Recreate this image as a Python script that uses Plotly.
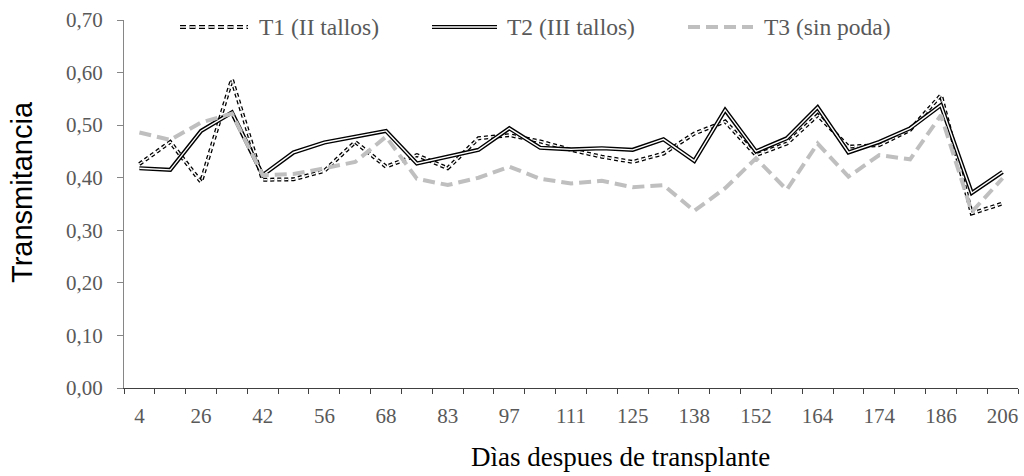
import plotly.graph_objects as go

# ---- data ----
days = ["4", "15", "26", "34", "42", "49", "56", "62", "68", "76", "83", "90", "97", "104",
        "111", "118", "125", "132", "138", "145", "152", "158", "164", "169", "174", "180",
        "186", "196", "206"]
tick_labels = [d if i % 2 == 0 else "" for i, d in enumerate(days)]

t1 = [0.426, 0.468, 0.392, 0.587, 0.396, 0.397, 0.413, 0.468, 0.421, 0.443,
      0.418, 0.475, 0.481, 0.469, 0.453, 0.440, 0.430, 0.446, 0.484, 0.507,
      0.443, 0.465, 0.519, 0.459, 0.462, 0.491, 0.557, 0.332, 0.351]
t2 = [0.418, 0.415, 0.489, 0.524, 0.405, 0.448, 0.467, 0.478, 0.489, 0.427,
      0.440, 0.453, 0.494, 0.457, 0.454, 0.456, 0.453, 0.473, 0.432, 0.529,
      0.450, 0.475, 0.534, 0.448, 0.468, 0.494, 0.538, 0.371, 0.411]
t3 = [0.486, 0.472, 0.505, 0.522, 0.405, 0.407, 0.418, 0.430, 0.478, 0.398,
      0.386, 0.400, 0.421, 0.398, 0.389, 0.394, 0.382, 0.386, 0.337, 0.380,
      0.437, 0.377, 0.465, 0.402, 0.443, 0.435, 0.519, 0.335, 0.399]

names = ["T1 (II tallos)", "T2 (III tallos)", "T3 (sin poda)"]

W, H = 1024, 476
L, R, T, B = 124, 6, 20, 88
PW, PH = W - L - R, H - T - B

T1_DASH = "4px,3px"
T3_DASH = "12px,6px"
GRAY = "#bfbfbf"
TXT = "#595959"

fig = go.Figure()
# T1: double dashed black line
fig.add_trace(go.Scatter(x=days, y=t1, mode="lines", name=names[0], showlegend=False,
                         line=dict(color="black", width=4, dash=T1_DASH)))
fig.add_trace(go.Scatter(x=days, y=t1, mode="lines", showlegend=False, hoverinfo="skip",
                         line=dict(color="white", width=1.4, dash=T1_DASH)))
# T2: double solid black line
fig.add_trace(go.Scatter(x=days, y=t2, mode="lines", name=names[1], showlegend=False,
                         line=dict(color="black", width=4.2)))
fig.add_trace(go.Scatter(x=days, y=t2, mode="lines", showlegend=False, hoverinfo="skip",
                         line=dict(color="white", width=1.4)))
# T3: gray dashed
fig.add_trace(go.Scatter(x=days, y=t3, mode="lines", name=names[2], showlegend=False,
                         line=dict(color=GRAY, width=4, dash=T3_DASH)))


def px2x(px):
    return (px - L) / PW


def px2y(py):
    return (H - B - py) / PH


shapes = []
annotations = []
leg_y = 27
items = [(180, 248, 257), (432, 497, 505), (688, 753, 762)]
for k, (x0, x1, xt) in enumerate(items):
    if k == 0:
        shapes.append(dict(type="line", xref="paper", yref="paper", x0=px2x(x0), x1=px2x(x1),
                           y0=px2y(leg_y), y1=px2y(leg_y), line=dict(color="black", width=4, dash="6px,3.5px")))
        shapes.append(dict(type="line", xref="paper", yref="paper", x0=px2x(x0), x1=px2x(x1),
                           y0=px2y(leg_y), y1=px2y(leg_y), line=dict(color="white", width=1.4, dash="6px,3.5px")))
    elif k == 1:
        shapes.append(dict(type="line", xref="paper", yref="paper", x0=px2x(x0), x1=px2x(x1),
                           y0=px2y(leg_y), y1=px2y(leg_y), line=dict(color="black", width=4.2)))
        shapes.append(dict(type="line", xref="paper", yref="paper", x0=px2x(x0), x1=px2x(x1),
                           y0=px2y(leg_y), y1=px2y(leg_y), line=dict(color="white", width=1.4)))
    else:
        shapes.append(dict(type="line", xref="paper", yref="paper", x0=px2x(x0), x1=px2x(x1),
                           y0=px2y(leg_y), y1=px2y(leg_y), line=dict(color=GRAY, width=4, dash=T3_DASH)))
    annotations.append(dict(text=names[k], xref="paper", yref="paper", x=px2x(xt), y=px2y(leg_y),
                            xanchor="left", yanchor="middle", showarrow=False,
                            font=dict(family="Liberation Serif", size=23.5, color=TXT)))

annotations.append(dict(text="Transmitancia", xref="paper", yref="paper", x=px2x(22), y=px2y(192),
                        xanchor="center", yanchor="middle", textangle=-90, showarrow=False,
                        font=dict(family="Liberation Sans", size=29, color="black")))
annotations.append(dict(text="Dìas despues de transplante", xref="paper", yref="paper",
                        x=px2x(620), y=px2y(457), xanchor="center", yanchor="middle", showarrow=False,
                        font=dict(family="Liberation Serif", size=27, color="black")))

fig.update_layout(
    width=W, height=H,
    margin=dict(l=L, r=R, t=T, b=B, pad=0),
    paper_bgcolor="white", plot_bgcolor="white",
    separators=",.",
    showlegend=False,
    shapes=shapes,
    annotations=annotations,
    xaxis=dict(type="category", categoryorder="array", categoryarray=days,
               range=[-0.5, len(days) - 0.5],
               tickmode="array", tickvals=days, ticktext=tick_labels,
               tickson="boundaries", ticks="outside", ticklen=5, tickcolor="#404040",
               showline=True, linecolor="#404040", linewidth=1.2, showgrid=False, zeroline=False,
               tickfont=dict(family="Liberation Serif", size=21, color=TXT),
               tickangle=0, ticklabelstandoff=9, fixedrange=True),
    yaxis=dict(range=[0, 0.70], tickmode="array", tickvals=[0, 0.1, 0.2, 0.3, 0.4, 0.5, 0.6, 0.7],
               tickformat=".2f", ticks="outside", ticklen=6, tickcolor="#868686",
               showline=True, linecolor="#868686", linewidth=1.2, showgrid=False, zeroline=False,
               tickfont=dict(family="Liberation Serif", size=21, color=TXT),
               ticklabelstandoff=10, fixedrange=True),
)

fig.write_html("out.html")
